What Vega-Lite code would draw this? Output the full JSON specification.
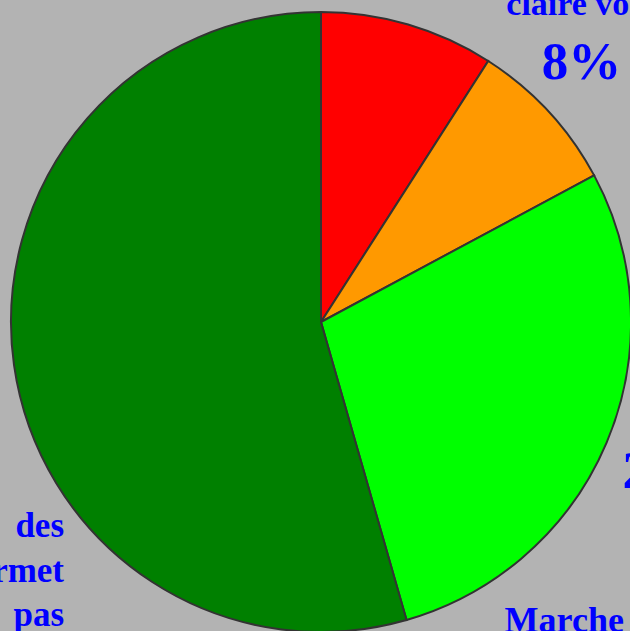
{
  "$schema": "https://vega.github.io/schema/vega-lite/v6.json",
  "autosize": "none",
  "width": 620,
  "height": 620,
  "padding": {"left": 11, "top": 12, "right": 0, "bottom": 0},
  "background": "#b3b3b3",
  "config": {"view": {"stroke": null}},
  "data": {
    "values": [
      {"rank": 1, "category": "rouge", "value": 9.07, "name": "", "pct": "9%"},
      {"rank": 2, "category": "orange", "value": 8.09, "name": "claire voie", "pct": "8%"},
      {"rank": 3, "category": "vert clair", "value": 28.39, "name": "Marche normale", "pct": "28%"},
      {"rank": 4, "category": "vert foncé", "value": 54.45, "name": "des\ndonnées ne permet\npas\nde conclure", "pct": "54%"}
    ]
  },
  "encoding": {
    "theta": {"field": "value", "type": "quantitative", "stack": true},
    "order": {"field": "rank", "type": "ordinal"}
  },
  "layer": [
    {
      "mark": {"type": "arc", "outerRadius": 310, "stroke": "#333333", "strokeWidth": 2},
      "encoding": {
        "color": {
          "field": "category", "type": "nominal", "legend": null,
          "scale": {"domain": ["rouge", "orange", "vert clair", "vert foncé"], "range": ["#ff0000", "#ff9900", "#00ff00", "#008000"]}
        }
      }
    },
    {
      "mark": {"type": "text", "radius": 310, "dx": 31.6, "dy": -96.4, "align": "center", "baseline": "alphabetic", "font": "Liberation Serif", "fontWeight": "bold", "fontSize": 34, "fill": "#0000ff"},
      "encoding": {
        "detail": {"field": "category"},
        "text": {"condition": {"test": "datum.category === 'orange'", "field": "name"}, "value": ""}
      }
    },
    {
      "mark": {"type": "text", "radius": 310, "dx": 33, "dy": -32.4, "align": "center", "baseline": "alphabetic", "font": "Liberation Serif", "fontWeight": "bold", "fontSize": 53, "fill": "#0000ff"},
      "encoding": {
        "detail": {"field": "category"},
        "text": {"condition": {"test": "datum.category === 'orange'", "field": "pct"}, "value": ""}
      }
    },
    {
      "mark": {"type": "text", "radius": 310, "dx": 16, "dy": 45.4, "align": "left", "baseline": "alphabetic", "font": "Liberation Serif", "fontWeight": "bold", "fontSize": 53, "fill": "#0000ff"},
      "encoding": {
        "detail": {"field": "category"},
        "text": {"condition": {"test": "datum.category === 'vert clair'", "field": "pct"}, "value": ""}
      }
    },
    {
      "mark": {"type": "text", "radius": 310, "dx": -102, "dy": 189, "align": "left", "baseline": "alphabetic", "font": "Liberation Serif", "fontWeight": "bold", "fontSize": 36, "fill": "#0000ff"},
      "encoding": {
        "detail": {"field": "category"},
        "text": {"condition": {"test": "datum.category === 'vert clair'", "field": "name"}, "value": ""}
      }
    },
    {
      "mark": {"type": "text", "radius": 310, "dx": 50, "dy": 172, "align": "right", "baseline": "alphabetic", "lineHeight": 44.5, "lineBreak": "\n", "font": "Liberation Serif", "fontWeight": "bold", "fontSize": 35, "fill": "#0000ff"},
      "encoding": {
        "detail": {"field": "category"},
        "text": {"condition": {"test": "datum.category === 'vert foncé'", "field": "name"}, "value": ""}
      }
    }
  ]
}
